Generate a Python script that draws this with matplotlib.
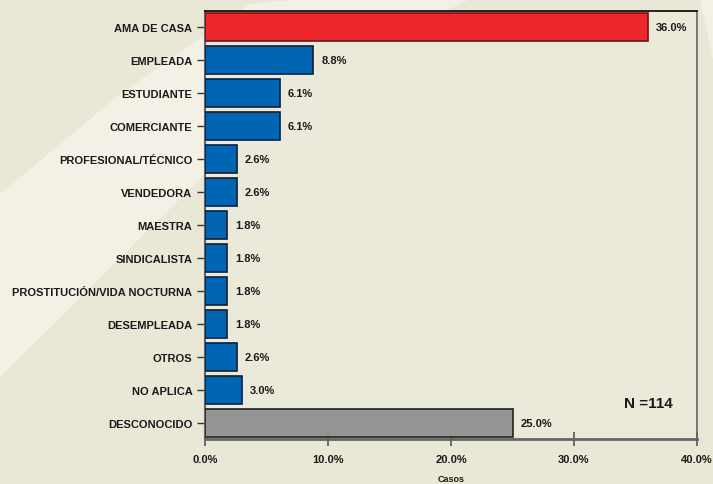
import matplotlib
matplotlib.use('Agg')
import matplotlib.pyplot as plt
from matplotlib.patches import Polygon

categories = ['AMA DE CASA', 'EMPLEADA', 'ESTUDIANTE', 'COMERCIANTE', 'PROFESIONAL/TÉCNICO',
              'VENDEDORA', 'MAESTRA', 'SINDICALISTA', 'PROSTITUCIÓN/VIDA NOCTURNA',
              'DESEMPLEADA', 'OTROS', 'NO APLICA', 'DESCONOCIDO']
values = [36.0, 8.8, 6.1, 6.1, 2.6, 2.6, 1.8, 1.8, 1.8, 1.8, 2.6, 3.0, 25.0]
xticks = [0, 10, 20, 30, 40]
n_total = 114

# colours: first bar red, last gray, rest blue
fills = ['#EE272D'] + ['#0066B3'] * 11 + ['#959595']
edges = ['#6E1416'] + ['#0A1F3C'] * 11 + ['#222222']

plt.rcParams['font.family'] = ['Liberation Sans', 'DejaVu Sans']

fig = plt.figure(figsize=(7.13, 4.85), dpi=100, facecolor='#E9E7D6')

# light swoosh in the background (pixel coords, y down)
W, H = 713, 485
def px(pts):
    return [(x / W, 1 - y / H) for x, y in pts]
band = Polygon(px([(0, 195), (120, 95), (250, 5), (300, 0), (470, 0), (330, 70), (205, 175), (0, 378)]),
               closed=True, transform=fig.transFigure, facecolor='#F3F1E6', edgecolor='none', zorder=-5)
fig.patches.append(band)
band2 = Polygon(px([(700, 0), (713, 0), (713, 60)]), closed=True, transform=fig.transFigure,
                facecolor='#F3F1E6', edgecolor='none', zorder=-5)
fig.patches.append(band2)

ax = fig.add_axes([205 / W, 1 - 440 / H, 492 / W, 428 / H])
ax.set_facecolor('#EBE9D9')

ypos = list(range(len(categories)))
ax.barh(ypos, values, height=0.85, color=fills, edgecolor=edges, linewidth=1.2, zorder=3)

for y, v in zip(ypos, values):
    ax.text(v + 0.65, y, f'{v:.1f}%', va='center', ha='left', fontsize=8,
            fontweight='bold', color='#1a1a1a')

ax.set_xlim(0, 40)
ax.set_ylim(len(categories) - 0.5, -0.5)
ax.set_yticks(ypos)
ax.set_yticklabels(categories, fontsize=8, fontweight='bold', color='#1a1a1a')
ax.set_xticks(xticks)
ax.set_xticklabels([f'{t:.1f}%' for t in xticks], fontsize=8, fontweight='bold', color='#1a1a1a')
ax.tick_params(axis='y', direction='inout', length=12, width=1, color='#333333', pad=3)
ax.tick_params(axis='x', direction='inout', length=10, width=1.2, color='#555555', pad=6)

ax.set_xlabel('Casos', fontsize=6.5, fontweight='bold', color='#1a1a1a', labelpad=7)

for s in ['left', 'bottom', 'right']:
    ax.spines[s].set_color('#666666')
ax.spines['left'].set_linewidth(1.5)
ax.spines['bottom'].set_linewidth(2)
ax.spines['right'].set_linewidth(1.2)
ax.spines['top'].set_color('black')
ax.spines['top'].set_linewidth(1.2)

ax.text(0.902, 0.084, f'N ={n_total}', transform=ax.transAxes, ha='center', va='center',
        fontsize=11, fontweight='bold', color='#1a1a1a')

plt.savefig('out.png', dpi=100, facecolor=fig.get_facecolor())
